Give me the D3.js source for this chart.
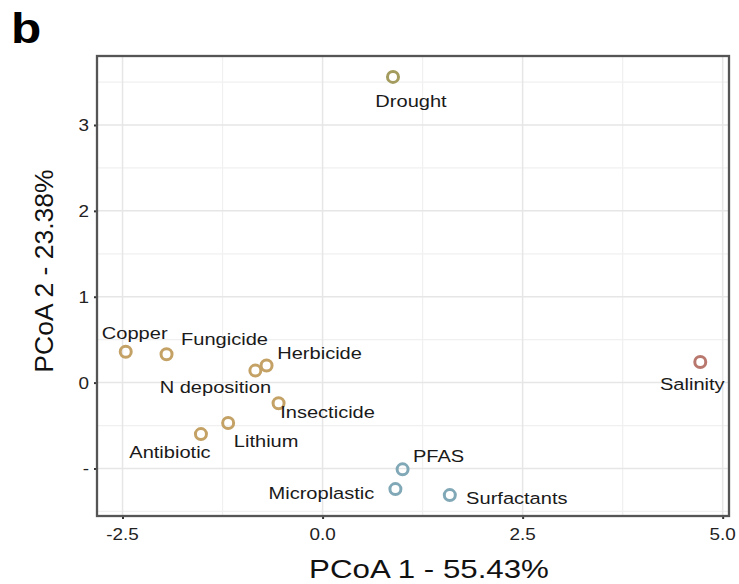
<!DOCTYPE html>
<html>
<head>
<meta charset="utf-8">
<script src="https://cdn.jsdelivr.net/npm/d3@7"></script>
<style>
  body { margin: 0; background: #fff; }
  svg { display: block; font-family: "Liberation Sans", Arial, Helvetica, sans-serif; }
</style>
</head>
<body>
<svg id="chart"></svg>
<script>
// stressor scores on the first two PCoA axes
var names   = ["Drought", "Salinity", "Copper", "Fungicide", "Herbicide", "N deposition",
               "Insecticide", "Lithium", "Antibiotic", "PFAS", "Microplastic", "Surfactants"];
var pcoa1   = [0.88, 4.72, -2.46, -1.95, -0.70, -0.84, -0.55, -1.18, -1.52, 1.00, 0.91, 1.59];
var pcoa2   = [3.56, 0.24, 0.36, 0.33, 0.20, 0.14, -0.24, -0.47, -0.60, -1.01, -1.24, -1.31];
var groups  = ["drought", "salinity", "chemical", "chemical", "chemical", "chemical",
               "chemical", "chemical", "chemical", "particle", "particle", "particle"];

var xTicks = [-2.5, 0, 2.5, 5];
var xTickLabels = ["-2.5", "0.0", "2.5", "5.0"];
var yTicks = [-1, 0, 1, 2, 3];
var yTickLabels = ["-", "0", "1", "2", "3"];

var xTitle = "PCoA 1 - 55.43%";
var yTitle = "PCoA 2 - 23.38%";

var width = 739,
    height = 584;
var margin = {top: 56, right: 10, bottom: 68, left: 97};
var stretch = 1.18; // the text in the figure is slightly widened

var colors = {
    drought: "#a39c5e",
    salinity: "#b9786e",
    chemical: "#c4a165",
    particle: "#80a8b6"
};

// label placement next to each point, px (dx = centre, dy = baseline)
var labelOffset = {
    "Drought": [18, 30],
    "Salinity": [-8, 28],
    "Copper": [9, -13],
    "Fungicide": [58, -9],
    "Herbicide": [53, -6],
    "N deposition": [-40, 22],
    "Insecticide": [49, 15],
    "Lithium": [38, 24],
    "Antibiotic": [-31, 24],
    "PFAS": [36, -7],
    "Microplastic": [-74, 10],
    "Surfactants": [67, 9]
};

var data = names.map(function(n, i) {
    return {name: n, x: pcoa1[i], y: pcoa2[i], group: groups[i]};
});

var svg = d3.select("#chart")
    .attr("width", width)
    .attr("height", height);

// ggplot-like 5% expansion
function expand(ext) {
    var pad = (ext[1] - ext[0]) * 0.05;
    return [ext[0] - pad, ext[1] + pad];
}

var x = d3.scaleLinear()
    .domain(expand(d3.extent(pcoa1)))
    .range([margin.left, width - margin.right]);
var y = d3.scaleLinear()
    .domain(expand(d3.extent(pcoa2)))
    .range([height - margin.bottom, margin.top]);

function stretchedText(sel, tx, ty) {
    return sel.attr("transform", function(d, i) {
        return "translate(" + tx(d, i) + "," + ty(d, i) + ") scale(" + stretch + ",1)";
    });
}

////////////////////////
// Grid
////////////////////////

var xMinor = [-1.25, 1.25, 3.75];
var yMinor = [-1.5, -0.5, 0.5, 1.5, 2.5, 3.5];

var grid = svg.append("g");

grid.selectAll(".xminor")
    .data(xMinor)
    .enter()
    .append("line")
    .attr("x1", function(d) { return x(d); })
    .attr("x2", function(d) { return x(d); })
    .attr("y1", y.range()[1])
    .attr("y2", y.range()[0])
    .attr("stroke", "#f0f0f0")
    .attr("stroke-width", 1.2);

grid.selectAll(".yminor")
    .data(yMinor)
    .enter()
    .append("line")
    .attr("y1", function(d) { return y(d); })
    .attr("y2", function(d) { return y(d); })
    .attr("x1", x.range()[0])
    .attr("x2", x.range()[1])
    .attr("stroke", "#f0f0f0")
    .attr("stroke-width", 1.2);

grid.selectAll(".xmajor")
    .data(xTicks)
    .enter()
    .append("line")
    .attr("x1", function(d) { return x(d); })
    .attr("x2", function(d) { return x(d); })
    .attr("y1", y.range()[1])
    .attr("y2", y.range()[0])
    .attr("stroke", "#e6e6e6")
    .attr("stroke-width", 1.5);

grid.selectAll(".ymajor")
    .data(yTicks)
    .enter()
    .append("line")
    .attr("y1", function(d) { return y(d); })
    .attr("y2", function(d) { return y(d); })
    .attr("x1", x.range()[0])
    .attr("x2", x.range()[1])
    .attr("stroke", "#e6e6e6")
    .attr("stroke-width", 1.5);

////////////////////////
// Axes
////////////////////////

var xAxis = svg.append("g")
    .attr("transform", "translate(0," + (height - margin.bottom) + ")")
    .call(d3.axisBottom(x).tickValues(xTicks).tickSize(3).tickFormat(""));
var yAxis = svg.append("g")
    .attr("transform", "translate(" + margin.left + ",0)")
    .call(d3.axisLeft(y).tickValues(yTicks).tickSize(3).tickFormat(""));

[xAxis, yAxis].forEach(function(a) {
    a.select(".domain").remove();
    a.selectAll(".tick line").attr("stroke", "#333").attr("stroke-width", 2);
});

svg.selectAll(".xlab")
    .data(xTicks)
    .enter()
    .append("text")
    .call(stretchedText, function(d) { return x(d); }, function() { return height - margin.bottom + 24; })
    .attr("text-anchor", "middle")
    .attr("font-size", 16)
    .attr("fill", "#222")
    .text(function(d, i) { return xTickLabels[i]; });

svg.selectAll(".ylab")
    .data(yTicks)
    .enter()
    .append("text")
    .call(stretchedText, function() { return margin.left - 8; }, function(d) { return y(d) + 6; })
    .attr("text-anchor", "end")
    .attr("font-size", 16)
    .attr("fill", "#222")
    .text(function(d, i) { return yTickLabels[i]; });

// panel border
svg.append("rect")
    .attr("x", x.range()[0])
    .attr("y", y.range()[1])
    .attr("width", x.range()[1] - x.range()[0])
    .attr("height", y.range()[0] - y.range()[1])
    .attr("fill", "none")
    .attr("stroke", "#555")
    .attr("stroke-width", 2.3);

////////////////////////
// Points and labels
////////////////////////

svg.selectAll(".pt")
    .data(data)
    .enter()
    .append("circle")
    .attr("cx", function(d) { return x(d.x); })
    .attr("cy", function(d) { return y(d.y); })
    .attr("r", 5.5)
    .attr("fill", "none")
    .attr("stroke", function(d) { return colors[d.group]; })
    .attr("stroke-width", 3);

svg.selectAll(".ptlab")
    .data(data)
    .enter()
    .append("text")
    .call(stretchedText,
        function(d) { return x(d.x) + labelOffset[d.name][0]; },
        function(d) { return y(d.y) + labelOffset[d.name][1]; })
    .attr("text-anchor", "middle")
    .attr("font-size", 17)
    .attr("fill", "#1a1a1a")
    .text(function(d) { return d.name; });

////////////////////////
// Titles
////////////////////////

svg.append("text")
    .attr("transform", "translate(429,578) scale(" + stretch + ",1)")
    .attr("text-anchor", "middle")
    .attr("font-size", 26.5)
    .attr("fill", "#111")
    .text(xTitle);

svg.append("text")
    .attr("transform", "translate(53,271) rotate(-90)")
    .attr("text-anchor", "middle")
    .attr("font-size", 26.5)
    .attr("fill", "#111")
    .attr("style", "font-stretch: normal")
    .text(yTitle);

svg.append("text")
    .attr("transform", "translate(11,43) scale(" + stretch + ",1)")
    .attr("font-size", 42)
    .attr("font-weight", "bold")
    .attr("fill", "#000")
    .text("b");
</script>
</body>
</html>
